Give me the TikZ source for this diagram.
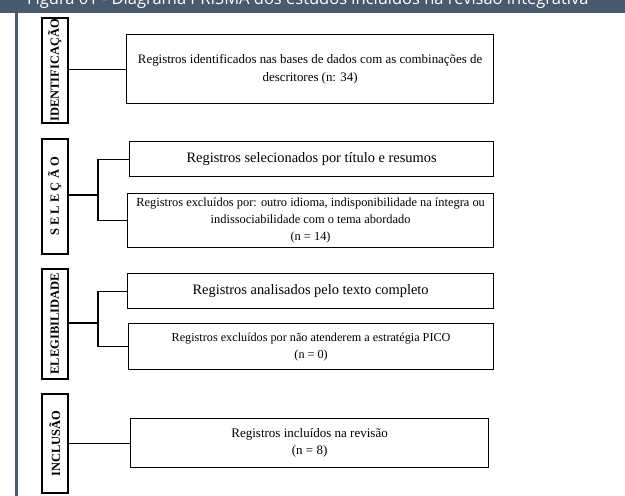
\documentclass[tikz,border=0pt]{standalone}
\usepackage{fontspec}
\setmainfont{Liberation Serif}
\newfontfamily\titlefont{Open Sans}
\definecolor{slate}{HTML}{4A5A6E}
\tikzset{
    phase/.style = {draw, line width = 1.6pt, anchor = north west, minimum width = 26pt, inner sep = 0pt,
        font = \bfseries\fontsize{12.5}{14}\selectfont},
    record/.style = {draw, line width = 1.2pt, anchor = north west, inner sep = 1pt, align = center,
        font = \fontsize{13}{17}\selectfont},
    link/.style = {line width = 1.2pt},
}
\begin{document}
\begin{tikzpicture}[x = 1pt, y = -1pt]
    \useasboundingbox (0, 0) rectangle (625, 496);
    % title bar, cut off at the top
    \fill [slate] (0, 0) rectangle (625, 13);
    \begin{scope}
        \clip (0, 0) rectangle (625, 13);
        \node [anchor = base west, inner sep = 0pt, text = white, font = \titlefont\fontsize{16.5}{18}\selectfont]
            (title) at (27, 4.5) {Figura 01 - Diagrama PRISMA dos estudos incluídos na revisão integrativa};
    \end{scope}
    \fill [slate] (15, 13) rectangle (18, 496);

    % phases
    \node [phase, minimum height = 105pt] (idlbl) at (41, 17) {\rotatebox{90}{IDENTIFICAÇÃO}};
    \node [phase, minimum height = 115pt] (sellbl) at (41, 138)
        {\rotatebox{90}{\addfontfeature{LetterSpace = 25}SELEÇÃO}};
    \node [phase, minimum height = 110pt] (ellbl) at (41, 268) {\rotatebox{90}{ELEGIBILIDADE}};
    \node [phase, minimum height = 99pt] (inclbl) at (41, 393) {\rotatebox{90}{INCLUSÃO}};

    % records
    \node [record, minimum width = 367pt, minimum height = 69pt, font = \fontsize{12.9}{18}\selectfont] (idbox)
        at (126, 34) {Registros identificados nas bases de dados com as combinações de\\descritores (n: 34)};
    \node [record, minimum width = 364pt, minimum height = 35pt, font = \fontsize{14.4}{17}\selectfont] (selA)
        at (129, 141) {Registros selecionados por título e resumos};
    \node [record, minimum width = 366pt, minimum height = 54pt, font = \fontsize{12.4}{17}\selectfont] (selB)
        at (127, 193) {Registros excluídos por: outro idioma, indisponibilidade na íntegra ou\\
         indissociabilidade com o tema abordado\\(n = 14)};
    \node [record, minimum width = 366pt, minimum height = 35pt, font = \fontsize{14.4}{17}\selectfont] (elA)
        at (127, 273) {Registros analisados pelo texto completo};
    \node [record, minimum width = 365pt, minimum height = 46pt, font = \fontsize{12.2}{17}\selectfont] (elB)
        at (128, 323) {Registros excluídos por não atenderem a estratégia PICO\\(n = 0)};
    \node [record, minimum width = 358pt, minimum height = 49pt] (inc)
        at (130, 418) {Registros incluídos na revisão\\(n = 8)};

    % connectors
    \coordinate (jsel) at (98, 195);
    \coordinate (jel) at (98, 323);
    \draw [link] (idlbl.east |- idbox.west) -- (idbox.west);
    \draw [link] (sellbl.east |- jsel) -- (jsel);
    \draw [link] (selA.west) -| (jsel) |- (selB.west);
    \draw [link] (ellbl.east |- jel) -- (jel);
    \draw [link] (elA.west) -| (jel) |- (elB.west);
    \draw [link] (inclbl.east |- inc.west) -- (inc.west);
\end{tikzpicture}
\end{document}
